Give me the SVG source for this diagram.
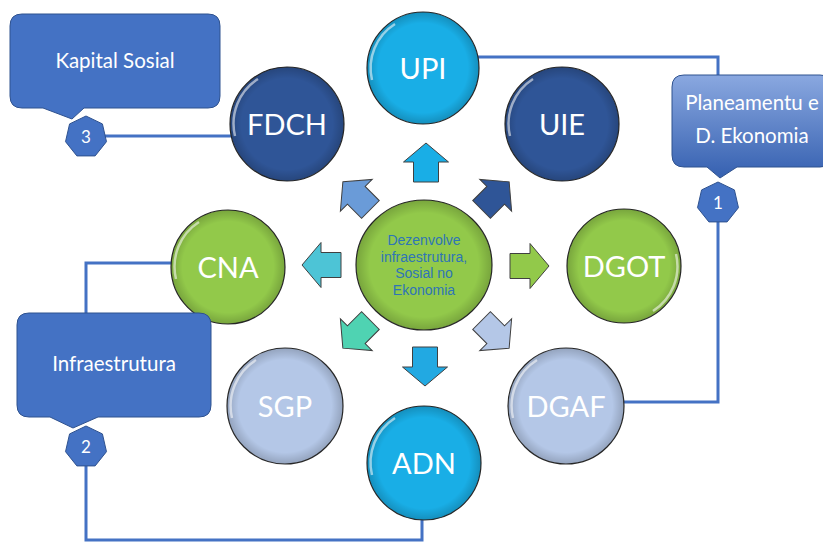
<svg xmlns="http://www.w3.org/2000/svg" xmlns:xlink="http://www.w3.org/1999/xlink" width="823" height="542" viewBox="0 0 823 542">
<style>
.conn{fill:none;stroke:#4472C4;stroke-width:3}
.node{stroke:#2a2a2a;stroke-width:1.2}
.shade{fill:url(#shade)}
.hl{fill:none;stroke:#ffffff;stroke-opacity:0.55;stroke-width:2.5}
.lbl{font-family:Lato,"Liberation Sans",sans-serif;fill:#ffffff;text-anchor:middle}
.big{font-size:29px}
.call{fill:#4472C4;stroke:#2F528F;stroke-width:1}
.ctext{font-size:20.5px}
.arrow{stroke:#404040;stroke-width:1}
.hept{fill:#4472C4;stroke:#2F528F;stroke-width:1}
</style>
<defs>
<radialGradient id="shade" cx="0.5" cy="0.5" r="0.5">
<stop offset="0.8" stop-color="#000" stop-opacity="0"/>
<stop offset="1" stop-color="#000" stop-opacity="0.18"/>
</radialGradient>
<linearGradient id="plan" x1="0" y1="0" x2="0" y2="1">
<stop offset="0" stop-color="#8AA8E0"/>
<stop offset="1" stop-color="#3560B0"/>
</linearGradient>
<path id="arw" d="M0,-20 L22.5,-1 H12.5 V19 H-12.5 V-1 H-22.5 Z"/>
<polygon id="hep" points="0,-21 16.42,-13.09 20.47,4.67 9.11,18.92 -9.11,18.92 -20.47,4.67 -16.42,-13.09"/>
</defs>
<rect width="823" height="542" fill="#ffffff"/>
<g id="connectors">
<path class="conn" d="M476,57 H718 V80"/>
<path class="conn" d="M718,218 V402 H618"/>
<path class="conn" d="M104,136 H240"/>
<path class="conn" d="M176,263 H86 V318"/>
<path class="conn" d="M86,462 V540 H422 V515"/>
</g>
<g id="arrows">
<use href="#arw" class="arrow" fill="#19AEE6" transform="translate(426,163)"/>
<use href="#arw" class="arrow" fill="#2F5597" transform="translate(495,196) rotate(45)"/>
<use href="#arw" class="arrow" fill="#92C94A" transform="translate(529,266) rotate(90)"/>
<use href="#arw" class="arrow" fill="#B4C7E7" transform="translate(495,334) rotate(135)"/>
<use href="#arw" class="arrow" fill="#22A9E2" transform="translate(425,366) rotate(180)"/>
<use href="#arw" class="arrow" fill="#4FD3B2" transform="translate(357,334) rotate(225)"/>
<use href="#arw" class="arrow" fill="#4DC4D6" transform="translate(322,265) rotate(270)"/>
<use href="#arw" class="arrow" fill="#6A9BD8" transform="translate(357,196) rotate(315)"/>
</g>
<g id="center">
<ellipse class="node" cx="424" cy="265" rx="68" ry="65" fill="#92C94A"/>
<ellipse class="shade" cx="424" cy="265" rx="68" ry="65"/>
<text font-family="'Liberation Sans',Arial,sans-serif" font-size="14" fill="#2E75B6" text-anchor="middle"><tspan x="424" y="245">Dezenvolve</tspan><tspan x="424" y="261.5">infraestrutura,</tspan><tspan x="424" y="278">Sosial no</tspan><tspan x="424" y="294.5">Ekonomia</tspan></text>
</g>
<g id="UPI">
<circle class="node" cx="423" cy="68" r="56" fill="#19AEE6"/>
<circle class="shade" cx="423" cy="68" r="56"/>
<path class="hl" d="M372,80 A52,52 0 0 1 395,24"/>
<text class="lbl big" x="423" y="79">UPI</text>
</g>
<g id="UIE">
<circle class="node" cx="562" cy="124" r="57" fill="#2F5597"/>
<circle class="shade" cx="562" cy="124" r="57"/>
<path class="hl" d="M510,136 A53,53 0 0 1 533,79"/>
<text class="lbl big" x="562" y="135">UIE</text>
</g>
<g id="FDCH">
<circle class="node" cx="287" cy="124" r="57" fill="#2F5597"/>
<circle class="shade" cx="287" cy="124" r="57"/>
<path class="hl" d="M235,136 A53,53 0 0 1 258,79"/>
<text class="lbl big" x="287" y="135">FDCH</text>
</g>
<g id="CNA">
<circle class="node" cx="228" cy="267" r="57" fill="#92C94A"/>
<circle class="shade" cx="228" cy="267" r="57"/>
<path class="hl" d="M176,279 A53,53 0 0 1 199,222"/>
<text class="lbl big" x="228" y="278">CNA</text>
</g>
<g id="DGOT">
<circle class="node" cx="624" cy="266" r="57" fill="#92C94A"/>
<circle class="shade" cx="624" cy="266" r="57"/>
<path class="hl" d="M676,254 A53,53 0 0 1 653,311"/>
<text class="lbl big" x="624" y="277">DGOT</text>
</g>
<g id="SGP">
<circle class="node" cx="285" cy="406" r="58" fill="#B4C7E7"/>
<circle class="shade" cx="285" cy="406" r="58"/>
<path class="hl" d="M232,418 A54,54 0 0 1 256,360"/>
<text class="lbl big" x="285" y="417">SGP</text>
</g>
<g id="DGAF">
<circle class="node" cx="566" cy="406" r="58" fill="#B4C7E7"/>
<circle class="shade" cx="566" cy="406" r="58"/>
<path class="hl" d="M513,418 A54,54 0 0 1 537,360"/>
<text class="lbl big" x="566" y="417">DGAF</text>
</g>
<g id="ADN">
<circle class="node" cx="424" cy="463" r="57" fill="#19AEE6"/>
<circle class="shade" cx="424" cy="463" r="57"/>
<path class="hl" d="M372,475 A53,53 0 0 1 395,418"/>
<text class="lbl big" x="424" y="474">ADN</text>
</g>
<g id="kapital-sosial">
<path class="call" d="M22,14 H208 Q220,14 220,26 V96 Q220,108 208,108 H84 L72,119 L43,108 H22 Q10,108 10,96 V26 Q10,14 22,14 Z"/>
<text class="lbl ctext" x="115" y="68">Kapital Sosial</text>
</g>
<g id="badge-3">
<use href="#hep" class="hept" transform="translate(86,137)"/>
<text class="lbl" font-size="17" x="86" y="143">3</text>
</g>
<g id="infraestrutura">
<path class="call" d="M29,313 H199 Q211,313 211,325 V405 Q211,417 199,417 H98 L73,428 L50,417 H29 Q17,417 17,405 V325 Q17,313 29,313 Z"/>
<text class="lbl ctext" x="114" y="371">Infraestrutura</text>
</g>
<g id="badge-2">
<use href="#hep" class="hept" transform="translate(86,447)"/>
<text class="lbl" font-size="17" x="86" y="453">2</text>
</g>
<g id="planeamentu">
<path fill="url(#plan)" stroke="#2F528F" stroke-width="1" d="M684,75 H820 Q832,75 832,87 V155 Q832,167 820,167 H737 L720,178 L707,167 H684 Q672,167 672,155 V87 Q672,75 684,75 Z"/>
<text class="lbl ctext"><tspan x="752" y="110">Planeamentu e</tspan><tspan x="752" y="143">D. Ekonomia</tspan></text>
</g>
<g id="badge-1">
<use href="#hep" class="hept" transform="translate(718,203)"/>
<text class="lbl" font-size="17" x="718" y="209">1</text>
</g>
</svg>
